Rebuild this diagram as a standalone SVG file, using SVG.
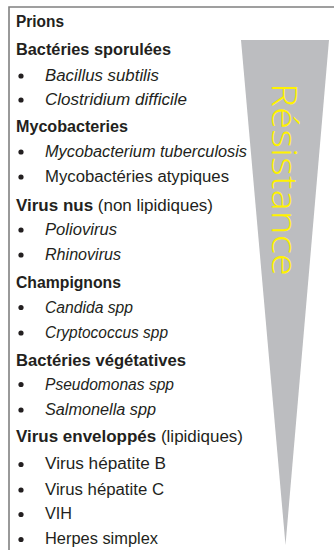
<svg xmlns="http://www.w3.org/2000/svg" width="334" height="550" viewBox="0 0 334 550">
<style>
.t{font-family:"Liberation Sans",Arial,sans-serif;font-size:16px;fill:#231f20}
.h{font-weight:bold}
.i{font-style:italic}
.b{fill:#231f20}
.res{font-family:"Open Sans","Liberation Sans",sans-serif;font-size:34px;font-weight:300;fill:#fff200}
</style>
<rect width="334" height="550" fill="#ffffff"/>
<g id="frame" fill="none" stroke="#808080" stroke-width="1.6">
<path d="M9,550 V7 H334"/>
</g>
<g id="resistance">
<polygon points="241,40 329,40 285.5,545" fill="#bcbdc0"/>
<text class="res" transform="translate(271.5,83) rotate(90)" x="0" y="0" textLength="193" lengthAdjust="spacingAndGlyphs">Résistance</text>
</g>
<g id="bullets" class="b">
<circle cx="21" cy="76" r="2.6"/>
<circle cx="21" cy="100" r="2.6"/>
<circle cx="21" cy="152" r="2.6"/>
<circle cx="21" cy="177" r="2.6"/>
<circle cx="21" cy="230" r="2.6"/>
<circle cx="21" cy="255" r="2.6"/>
<circle cx="21" cy="307.5" r="2.6"/>
<circle cx="21" cy="333" r="2.6"/>
<circle cx="21" cy="384.5" r="2.6"/>
<circle cx="21" cy="410" r="2.6"/>
<circle cx="21" cy="464.5" r="2.6"/>
<circle cx="21" cy="490" r="2.6"/>
<circle cx="21" cy="514.5" r="2.6"/>
<circle cx="21" cy="539.5" r="2.6"/>
</g>
<g id="prions"><text class="t h" x="16" y="26.5" textLength="48" lengthAdjust="spacingAndGlyphs">Prions</text></g>
<g id="bacteries-sporulees">
<text class="t h" x="16" y="55" textLength="155" lengthAdjust="spacingAndGlyphs">Bactéries sporulées</text>
<text class="t i" x="45" y="81" textLength="114" lengthAdjust="spacingAndGlyphs">Bacillus subtilis</text>
<text class="t i" x="45" y="105" textLength="142" lengthAdjust="spacingAndGlyphs">Clostridium difficile</text>
</g>
<g id="mycobacteries">
<text class="t h" x="16" y="131.5" textLength="112" lengthAdjust="spacingAndGlyphs">Mycobacteries</text>
<text class="t i" x="45" y="157" textLength="202" lengthAdjust="spacingAndGlyphs">Mycobacterium tuberculosis</text>
<text class="t" x="45" y="181.5" textLength="184" lengthAdjust="spacingAndGlyphs">Mycobactéries atypiques</text>
</g>
<g id="virus-nus">
<text class="t" x="16" y="210.5" textLength="197" lengthAdjust="spacingAndGlyphs"><tspan class="h">Virus nus</tspan> (non lipidiques)</text>
<text class="t i" x="45" y="235" textLength="72" lengthAdjust="spacingAndGlyphs">Poliovirus</text>
<text class="t i" x="45" y="260" textLength="76" lengthAdjust="spacingAndGlyphs">Rhinovirus</text>
</g>
<g id="champignons">
<text class="t h" x="16" y="288" textLength="105" lengthAdjust="spacingAndGlyphs">Champignons</text>
<text class="t i" x="45" y="312.5" textLength="88" lengthAdjust="spacingAndGlyphs">Candida spp</text>
<text class="t i" x="45" y="338" textLength="123" lengthAdjust="spacingAndGlyphs">Cryptococcus spp</text>
</g>
<g id="bacteries-vegetatives">
<text class="t h" x="16" y="365.5" textLength="170" lengthAdjust="spacingAndGlyphs">Bactéries végétatives</text>
<text class="t i" x="45" y="389.5" textLength="129" lengthAdjust="spacingAndGlyphs">Pseudomonas spp</text>
<text class="t i" x="45" y="415" textLength="111" lengthAdjust="spacingAndGlyphs">Salmonella spp</text>
</g>
<g id="virus-enveloppes">
<text class="t" x="16" y="441.5" textLength="227" lengthAdjust="spacingAndGlyphs"><tspan class="h">Virus enveloppés</tspan> (lipidiques)</text>
<text class="t" x="45" y="469" textLength="121" lengthAdjust="spacingAndGlyphs">Virus hépatite B</text>
<text class="t" x="45" y="494.5" textLength="119" lengthAdjust="spacingAndGlyphs">Virus hépatite C</text>
<text class="t" x="45" y="519" textLength="27" lengthAdjust="spacingAndGlyphs">VIH</text>
<text class="t" x="45" y="544" textLength="113" lengthAdjust="spacingAndGlyphs">Herpes simplex</text>
</g>
</svg>
